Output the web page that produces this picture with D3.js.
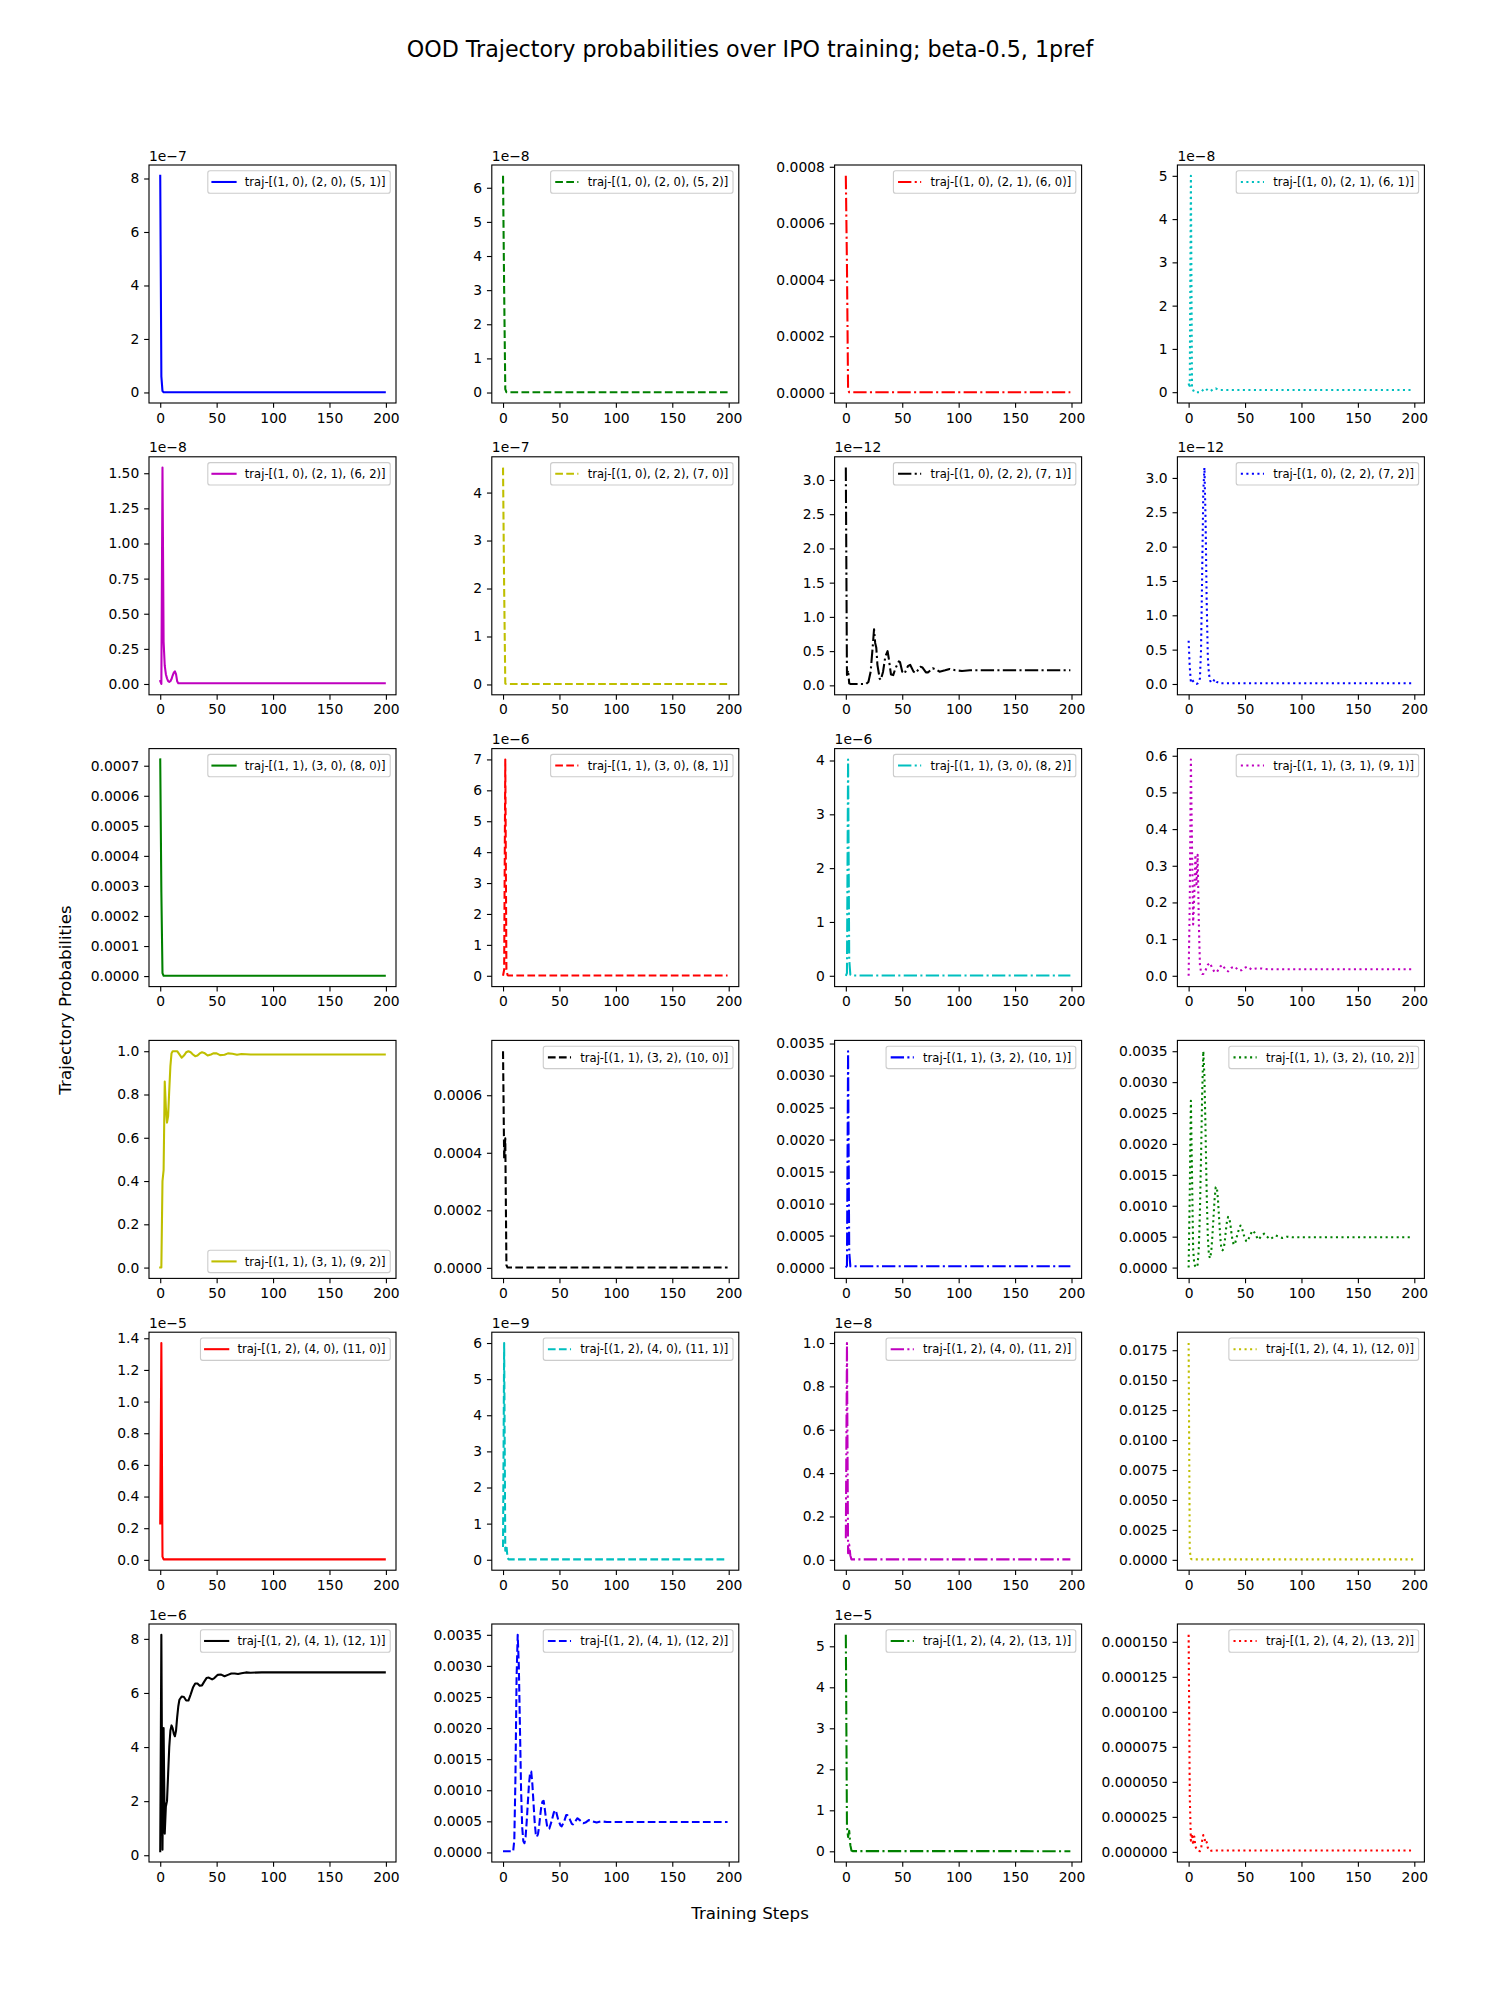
<!DOCTYPE html>
<html><head><meta charset="utf-8">
<script src="https://cdn.jsdelivr.net/npm/d3@7"></script>
<style>body{margin:0;background:#fff} text{font-family:"DejaVu Sans",sans-serif}</style>
</head><body><svg id="fig" width="1500" height="2000"></svg>
<script>
// ---------------- DATA (step, value in axis units) ----------------
const t_10_20_51 = [[0,8.1],[1,0.6],[2,0.05],[3,0.01],[199,0.01]];
const t_10_20_52 = [[0,6.35],[1,3.0],[2,0.1],[3,0.01],[199,0.01]];
const t_10_21_60 = [[0,0.000768],[1,0.00045],[2,0.00001],[3,0.000002],[199,0.000002]];
const t_10_21_61 = [[0,0.2],[1,0.1],[2,5.0],[3,0.1],[4,0.05],[5,0.0],[11,0.0],[13,0.06],[15,0.09],[17,0.04],[19,0.02],[22,0.07],[24,0.09],[26,0.06],[28,0.05],[199,0.05]];
const t_10_21_62 = [[0,0.02],[1,0.0],[2,1.54],[3,0.3],[4,0.13],[5,0.07],[6,0.04],[7,0.02],[8,0.015],[9,0.02],[10,0.035],[11,0.06],[12,0.08],[13,0.09],[14,0.07],[15,0.02],[16,0.005],[199,0.005]];
const t_10_22_70 = [[0,4.52],[1,2.0],[2,0.02],[3,0.01],[199,0.01]];
const t_10_22_71 = [[0,3.18],[1,0.15],[2,0.22],[3,0.03],[4,0.02],[18,0.02],[20,0.05],[22,0.2],[24,0.6],[25,0.82],[26,0.62],[27,0.55],[28,0.3],[30,0.1],[31,0.08],[33,0.2],[35,0.42],[37,0.5],[38,0.4],[40,0.16],[42,0.15],[44,0.25],[47,0.35],[48,0.34],[50,0.2],[52,0.17],[55,0.28],[57,0.3],[60,0.2],[62,0.18],[66,0.27],[68,0.26],[71,0.19],[73,0.19],[77,0.25],[80,0.23],[83,0.2],[88,0.22],[92,0.24],[97,0.22],[103,0.21],[110,0.22],[199,0.22]];
const t_10_22_72 = [[0,0.63],[1,0.25],[2,0.03],[3,0.06],[4,0.04],[5,0.02],[6,0.01],[7,0.0],[8,0.01],[9,0.03],[10,0.08],[11,0.5],[12,1.6],[13,2.8],[14,3.15],[15,2.4],[16,1.2],[17,0.4],[18,0.15],[19,0.05],[20,0.02],[21,0.02],[22,0.04],[23,0.07],[24,0.06],[25,0.03],[27,0.01],[199,0.01]];
const t_11_30_80 = [[0,0.000721],[1,0.00028],[2,0.00001],[3,0.000001],[199,0.000001]];
const t_11_30_81 = [[0,0.0],[1,0.2],[2,7.0],[3,0.2],[4,0.02],[5,0.01],[199,0.01]];
const t_11_30_82 = [[0,0.0],[1,0.05],[2,4.02],[3,0.3],[4,0.02],[5,0.005],[199,0.005]];
const t_11_31_91 = [[0,0.0],[1,0.2],[2,0.59],[3,0.35],[4,0.14],[5,0.22],[6,0.33],[7,0.25],[8,0.33],[9,0.15],[10,0.03],[11,0.01],[12,0.005],[13,0.005],[15,0.015],[17,0.03],[19,0.035],[21,0.02],[23,0.01],[25,0.01],[28,0.025],[30,0.03],[33,0.015],[35,0.012],[38,0.022],[41,0.025],[44,0.015],[47,0.015],[50,0.022],[52,0.025],[56,0.017],[60,0.02],[65,0.02],[70,0.018],[199,0.018]];
const t_11_31_92 = [[0,0.0],[1,0.0],[2,0.4],[3,0.45],[4,0.86],[5,0.74],[6,0.67],[7,0.7],[8,0.82],[9,0.93],[10,0.99],[11,1.0],[15,1.0],[17,0.985],[19,0.97],[21,0.98],[23,0.995],[25,1.0],[27,0.995],[29,0.985],[31,0.977],[33,0.98],[35,0.99],[37,0.995],[39,0.992],[42,0.98],[45,0.985],[47,0.99],[50,0.99],[53,0.982],[57,0.984],[60,0.99],[64,0.988],[68,0.984],[72,0.987],[80,0.985],[199,0.985]];
const t_11_32_100 = [[0,0.000753],[1,0.00038],[2,0.00045],[3,0.00001],[4,0.000001],[199,0.000001]];
const t_11_32_101 = [[0,0.0],[1,0.00003],[2,0.00338],[3,0.00025],[4,0.00002],[199,0.00002]];
const t_11_32_102 = [[0,0.0],[1,0.0012],[2,0.0027],[3,0.0015],[4,0.0003],[5,0.00005],[6,0.00002],[7,0.0],[8,0.00005],[9,0.0003],[10,0.0009],[11,0.0018],[12,0.0028],[13,0.0035],[14,0.0031],[15,0.0022],[16,0.0012],[17,0.0005],[18,0.0002],[19,0.00015],[20,0.00025],[21,0.0005],[22,0.0008],[23,0.0011],[24,0.0013],[25,0.0013],[26,0.0011],[27,0.0008],[28,0.0005],[29,0.0003],[30,0.00028],[31,0.0003],[32,0.00042],[33,0.0006],[34,0.00075],[35,0.00082],[36,0.0008],[37,0.0007],[38,0.00055],[39,0.00043],[40,0.00037],[41,0.00038],[43,0.00052],[45,0.00065],[46,0.00068],[47,0.00066],[49,0.00052],[51,0.00043],[52,0.00042],[54,0.0005],[56,0.00058],[57,0.0006],[59,0.00055],[61,0.00047],[62,0.00045],[64,0.0005],[67,0.00055],[69,0.00051],[72,0.00046],[74,0.00048],[77,0.00052],[80,0.0005],[83,0.00048],[87,0.0005],[92,0.00049],[199,0.00049]];
const t_12_40_110 = [[0,0.23],[1,1.37],[2,0.02],[3,0.003],[199,0.003]];
const t_12_40_111 = [[0,0.35],[1,6.0],[2,0.25],[3,0.4],[4,0.05],[5,0.01],[199,0.01]];
const t_12_40_112 = [[0,0.1],[1,1.0],[2,0.03],[3,0.07],[4,0.02],[5,0.002],[199,0.002]];
const t_12_41_120 = [[0,0.0181],[1,0.0008],[2,0.0001],[3,0.00004],[199,0.00004]];
const t_12_41_121 = [[0,0.15],[1,8.15],[2,0.2],[3,4.7],[4,0.8],[5,1.8],[6,2.0],[7,3.0],[8,4.0],[9,4.6],[10,4.8],[11,4.7],[12,4.5],[13,4.4],[14,4.6],[15,5.1],[16,5.5],[17,5.75],[19,5.87],[21,5.85],[23,5.72],[25,5.72],[27,5.95],[29,6.2],[31,6.35],[33,6.35],[35,6.27],[37,6.28],[39,6.42],[41,6.55],[43,6.57],[46,6.5],[48,6.55],[51,6.67],[54,6.68],[57,6.62],[60,6.67],[63,6.72],[66,6.72],[69,6.7],[72,6.73],[76,6.76],[80,6.75],[90,6.76],[199,6.76]];
const t_12_41_122 = [[0,0.00002],[9,0.00002],[10,0.0002],[11,0.0012],[12,0.0028],[13,0.0035],[14,0.003],[15,0.002],[16,0.001],[17,0.0004],[18,0.00018],[19,0.00015],[20,0.00025],[21,0.0005],[22,0.0008],[23,0.0011],[24,0.00128],[25,0.0013],[26,0.0011],[27,0.0008],[28,0.0005],[29,0.0003],[30,0.00025],[31,0.0003],[32,0.00042],[33,0.0006],[34,0.00075],[35,0.00082],[36,0.00083],[37,0.0007],[38,0.00055],[39,0.00043],[40,0.00038],[41,0.00038],[43,0.0005],[45,0.00064],[46,0.00068],[47,0.00066],[49,0.00052],[51,0.00043],[52,0.00042],[54,0.00049],[56,0.0006],[57,0.0006],[59,0.00054],[61,0.00046],[62,0.00045],[64,0.0005],[66,0.00055],[68,0.00052],[71,0.00047],[73,0.00048],[76,0.00052],[79,0.0005],[83,0.00048],[87,0.0005],[92,0.00049],[199,0.00049]];
const t_12_42_131 = [[0,5.28],[1,0.6],[2,0.35],[3,0.5],[4,0.15],[5,0.02],[6,0.005],[199,0.003]];
const t_12_42_132 = [[0,0.000155],[1,0.00004],[2,0.000008],[3,0.000013],[4,0.000005],[5,0.000011],[6,0.000004],[7,0.000002],[8,0.000001],[10,0.0000005],[11,0.000002],[12,0.000008],[13,0.000012],[14,0.00001],[15,0.000006],[16,0.000007],[17,0.000003],[19,0.0000005],[21,0.000001],[199,0.000001]];

const series = [t_10_20_51,t_10_20_52,t_10_21_60,t_10_21_61,t_10_21_62,t_10_22_70,t_10_22_71,t_10_22_72,
  t_11_30_80,t_11_30_81,t_11_30_82,t_11_31_91,t_11_31_92,t_11_32_100,t_11_32_101,t_11_32_102,
  t_12_40_110,t_12_40_111,t_12_40_112,t_12_41_120,t_12_41_121,t_12_41_122,t_12_42_131,t_12_42_132];

const labels = ["traj-[(1, 0), (2, 0), (5, 1)]","traj-[(1, 0), (2, 0), (5, 2)]","traj-[(1, 0), (2, 1), (6, 0)]","traj-[(1, 0), (2, 1), (6, 1)]",
  "traj-[(1, 0), (2, 1), (6, 2)]","traj-[(1, 0), (2, 2), (7, 0)]","traj-[(1, 0), (2, 2), (7, 1)]","traj-[(1, 0), (2, 2), (7, 2)]",
  "traj-[(1, 1), (3, 0), (8, 0)]","traj-[(1, 1), (3, 0), (8, 1)]","traj-[(1, 1), (3, 0), (8, 2)]","traj-[(1, 1), (3, 1), (9, 1)]",
  "traj-[(1, 1), (3, 1), (9, 2)]","traj-[(1, 1), (3, 2), (10, 0)]","traj-[(1, 1), (3, 2), (10, 1)]","traj-[(1, 1), (3, 2), (10, 2)]",
  "traj-[(1, 2), (4, 0), (11, 0)]","traj-[(1, 2), (4, 0), (11, 1)]","traj-[(1, 2), (4, 0), (11, 2)]","traj-[(1, 2), (4, 1), (12, 0)]",
  "traj-[(1, 2), (4, 1), (12, 1)]","traj-[(1, 2), (4, 1), (12, 2)]","traj-[(1, 2), (4, 2), (13, 1)]","traj-[(1, 2), (4, 2), (13, 2)]"];

const offsetExp = [-7,-8,null,-8, -8,-7,-12,-12, null,-6,-6,null, null,null,null,null, -5,-9,-8,null, -6,null,-5,null];

const yTickLabels = [
  ["0","2","4","6","8"],
  ["0","1","2","3","4","5","6"],
  ["0.0000","0.0002","0.0004","0.0006","0.0008"],
  ["0","1","2","3","4","5"],
  ["0.00","0.25","0.50","0.75","1.00","1.25","1.50"],
  ["0","1","2","3","4"],
  ["0.0","0.5","1.0","1.5","2.0","2.5","3.0"],
  ["0.0","0.5","1.0","1.5","2.0","2.5","3.0"],
  ["0.0000","0.0001","0.0002","0.0003","0.0004","0.0005","0.0006","0.0007"],
  ["0","1","2","3","4","5","6","7"],
  ["0","1","2","3","4"],
  ["0.0","0.1","0.2","0.3","0.4","0.5","0.6"],
  ["0.0","0.2","0.4","0.6","0.8","1.0"],
  ["0.0000","0.0002","0.0004","0.0006"],
  ["0.0000","0.0005","0.0010","0.0015","0.0020","0.0025","0.0030","0.0035"],
  ["0.0000","0.0005","0.0010","0.0015","0.0020","0.0025","0.0030","0.0035"],
  ["0.0","0.2","0.4","0.6","0.8","1.0","1.2","1.4"],
  ["0","1","2","3","4","5","6"],
  ["0.0","0.2","0.4","0.6","0.8","1.0"],
  ["0.0000","0.0025","0.0050","0.0075","0.0100","0.0125","0.0150","0.0175"],
  ["0","2","4","6","8"],
  ["0.0000","0.0005","0.0010","0.0015","0.0020","0.0025","0.0030","0.0035"],
  ["0","1","2","3","4","5"],
  ["0.000000","0.000025","0.000050","0.000075","0.000100","0.000125","0.000150"]
];
const xTickValues = [0,50,100,150,200];
const legendLower = [12]; // panel indices with legend at lower right

// ---------------- STYLE / LAYOUT ----------------
const colorCycle = ["#0000ff","#008000","#ff0000","#00bfbf","#bf00bf","#bfbf00","#000000"];
const LW = 2.08;
const styleCycle = [null, "7.7,3.33", "13.33,3.33,2.08,3.33", "2.08,3.44"];
const FS_TICK = 13.89, FS_LEG = 11.57, FS_LABEL = 16.67, FS_TITLE = 22.2;
const colLeft0 = 149, colStep = 342.8, axW = 247;
const rowTop0 = 165, rowStep = 291.8, axH = 238;
const TICK = 4.86, PAD = 4.86;

const svg = d3.select("#fig");
svg.append("rect").attr("width",1500).attr("height",2000).attr("fill","#fff");
const defs = svg.append("defs");

series.forEach((data, i) => {
  const r = Math.floor(i/4), c = i%4;
  const x0 = colLeft0 + c*colStep, y0 = rowTop0 + r*rowStep;
  const g = svg.append("g").attr("transform", `translate(${x0},${y0})`);
  const xExt = d3.extent(data, d => d[0]);
  const xPad = (xExt[1]-xExt[0])*0.05;
  const xs = d3.scaleLinear().domain([xExt[0]-xPad, xExt[1]+xPad]).range([0, axW]);
  const yExt = d3.extent(data, d => d[1]);
  const yPad = (yExt[1]-yExt[0])*0.05;
  const ys = d3.scaleLinear().domain([yExt[0]-yPad, yExt[1]+yPad]).range([axH, 0]);

  const color = colorCycle[i % 7];
  const dash = styleCycle[i % 4];

  defs.append("clipPath").attr("id","clip"+i).append("rect").attr("width",axW).attr("height",axH);

  const line = d3.line().x(d => xs(d[0])).y(d => ys(d[1]));
  g.append("path").datum(data)
    .attr("clip-path", `url(#clip${i})`)
    .attr("d", line).attr("fill","none").attr("stroke",color).attr("stroke-width",LW)
    .attr("stroke-linejoin","round")
    .attr("stroke-linecap", dash ? "butt" : "square")
    .attr("stroke-dasharray", dash);

  // spines
  g.append("rect").attr("width",axW).attr("height",axH).attr("fill","none").attr("stroke","#000").attr("stroke-width",1.11);

  // axes
  const gx = g.append("g").attr("transform",`translate(0,${axH})`)
    .call(d3.axisBottom(xs).tickValues(xTickValues).tickSize(TICK).tickPadding(PAD).tickFormat(d3.format("d")));
  const yl = yTickLabels[i];
  const mult = offsetExp[i] === null ? 1 : 1;
  const yv = yl.map(s => +s * mult);
  const gy = g.append("g")
    .call(d3.axisLeft(ys).tickValues(yv).tickSize(TICK).tickPadding(PAD).tickFormat((d,j) => yl[j]));
  [gx, gy].forEach(a => {
    a.select(".domain").remove();
    a.attr("font-size", FS_TICK).attr("font-family","DejaVu Sans");
    a.selectAll("line").attr("stroke","#000").attr("stroke-width",1.11);
    a.selectAll("text").attr("fill","#000");
  });

  // offset text
  if (offsetExp[i] !== null) {
    g.append("text").attr("x",0).attr("y",-4.5).attr("font-size",FS_TICK).attr("fill","#000")
      .text("1e\u2212" + Math.abs(offsetExp[i]));
  }

  // legend
  const bp = 0.4*FS_LEG, hl = 2*FS_LEG, htp = 0.8*FS_LEG, bap = 0.5*FS_LEG;
  const lg = g.append("g");
  const box = lg.append("rect");
  const txt = lg.append("text").attr("font-size",FS_LEG).attr("fill","#000").text(labels[i]);
  const tl = txt.node().getComputedTextLength();
  const bw = 2*bp + hl + htp + tl, bh = 22.4;
  const bx = axW - bap - bw;
  const by = legendLower.includes(i) ? axH - bap - bh : bap;
  box.attr("x",bx).attr("y",by).attr("width",bw).attr("height",bh).attr("rx",2.3)
    .attr("fill","#fff").attr("fill-opacity",0.8).attr("stroke","#cccccc").attr("stroke-width",1.1);
  const cy = by + bh/2;
  lg.append("line").attr("x1",bx+bp).attr("x2",bx+bp+hl).attr("y1",cy).attr("y2",cy)
    .attr("stroke",color).attr("stroke-width",LW)
    .attr("stroke-linecap", dash ? "butt" : "square")
    .attr("stroke-dasharray", dash);
  txt.attr("x", bx+bp+hl+htp).attr("y", cy).attr("dy","0.36em");
});

// figure texts
svg.append("text").attr("x",750).attr("y",57).attr("text-anchor","middle").attr("font-size",FS_TITLE).attr("fill","#000")
  .text("OOD Trajectory probabilities over IPO training; beta-0.5, 1pref");
svg.append("text").attr("x",750).attr("y",1919).attr("text-anchor","middle").attr("font-size",FS_LABEL).attr("fill","#000")
  .text("Training Steps");
svg.append("text").attr("transform","translate(71,1000) rotate(-90)").attr("text-anchor","middle").attr("font-size",FS_LABEL).attr("fill","#000")
  .text("Trajectory Probabilities");
</script></body></html>
